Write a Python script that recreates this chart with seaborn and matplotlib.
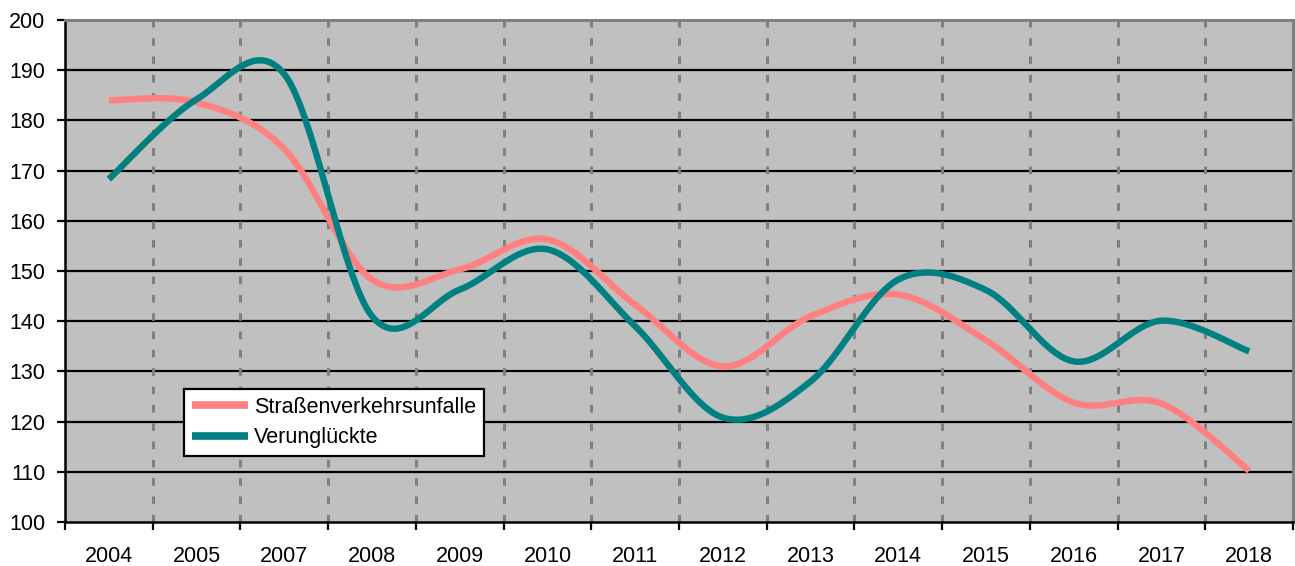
import numpy as np
import pandas as pd
import matplotlib
matplotlib.use("Agg")
import matplotlib.pyplot as plt
import seaborn as sns

years = ["2004", "2005", "2007", "2008", "2009", "2010", "2011",
         "2012", "2013", "2014", "2015", "2016", "2017", "2018"]
strassen = [184.0, 183.6, 174.3, 148.3, 150.3, 156.3, 143.3,
            131.0, 141.0, 145.3, 136.2, 123.8, 123.6, 110.2]
verungl = [168.3, 184.2, 189.2, 141.0, 146.3, 154.3, 139.0,
           120.8, 128.0, 148.3, 146.2, 132.0, 140.1, 134.0]
series_names = ["Straßenverkehrsunfalle", "Verunglückte"]
colors = ["#FF8080", "#008080"]
yticks = list(range(100, 201, 10))


def excel_smooth(vals, n=40):
    """Excel-style smoothed line: cubic Bezier segments through the points."""
    x = np.arange(len(vals), dtype=float)
    y = np.asarray(vals, dtype=float)
    P = np.column_stack([x, y])
    out = []
    m = len(P)
    for i in range(m - 1):
        p0 = P[i - 1] if i > 0 else P[i]
        p1 = P[i]
        p2 = P[i + 1]
        p3 = P[i + 2] if i + 2 < m else P[i + 1]
        c1 = p1 + (p2 - p0) / 6.0
        c2 = p2 - (p3 - p1) / 6.0
        t = np.linspace(0, 1, n, endpoint=(i == m - 2))[:, None]
        seg = ((1 - t) ** 3) * p1 + 3 * ((1 - t) ** 2) * t * c1 + 3 * (1 - t) * t ** 2 * c2 + t ** 3 * p2
        out.append(seg)
    out = np.vstack(out)
    return out[:, 0], out[:, 1]


sns.set_theme(style="white")
plt.rcParams["font.family"] = ["Liberation Sans", "DejaVu Sans"]
plt.rcParams["text.color"] = "black"
plt.rcParams["xtick.color"] = "black"
plt.rcParams["ytick.color"] = "black"
plt.rcParams["xtick.labelcolor"] = "black"
plt.rcParams["ytick.labelcolor"] = "black"
FS = 15.5

fig = plt.figure(figsize=(12.95, 5.66), dpi=100)
ax = fig.add_axes([0.0502, 0.0777, 0.9483, 0.887])
ax.set_facecolor("#C0C0C0")

frames = []
for name, vals in zip(series_names, [strassen, verungl]):
    sx, sy = excel_smooth(vals)
    frames.append(pd.DataFrame({"x": sx, "y": sy, "series": name}))
df = pd.concat(frames, ignore_index=True)

# grid lines
for yv in yticks[1:-1]:
    ax.axhline(yv, color="black", lw=1.6, zorder=1)
for k in range(1, len(years)):
    ax.axvline(k - 0.5, color="#808080", lw=2.2, ls=(0, (2.5, 3.5)), zorder=1)

sns.lineplot(data=df, x="x", y="y", hue="series", palette=colors,
             sort=False, estimator=None, lw=4.6, ax=ax, zorder=3,
             hue_order=series_names, solid_capstyle="butt")

ax.set_xlim(-0.5, len(years) - 0.5)
ax.set_ylim(100, 200)
ax.set_yticks(yticks)
ax.set_yticklabels([str(v) for v in yticks], fontsize=FS, color="black")
ax.set_xticks(range(len(years)))
ax.set_xticklabels(years, fontsize=FS, color="black")
ax.set_xticks(np.arange(-0.5, len(years), 1.0), minor=True)
ax.tick_params(axis="x", which="major", length=0, pad=17, colors="black")
ax.tick_params(axis="x", which="minor", length=6, width=1.6, color="black", direction="out", bottom=True)
ax.tick_params(axis="y", which="major", length=6, width=1.6, colors="black", direction="out", left=True, pad=8)
ax.set_xlabel("")
ax.set_ylabel("")

for side in ["left", "bottom"]:
    ax.spines[side].set_color("black")
    ax.spines[side].set_linewidth(1.8)
for side in ["top", "right"]:
    ax.spines[side].set_color("#808080")
    ax.spines[side].set_linewidth(2.2)

leg = ax.legend(loc="upper left", bbox_to_anchor=(0.097, 0.265), borderaxespad=0,
                fontsize=FS, frameon=True, fancybox=False, framealpha=1,
                edgecolor="black", handlelength=2.6, handletextpad=0.3,
                borderpad=0.35, labelspacing=0.45)
leg.get_frame().set_linewidth(1.6)
for text in leg.get_texts():
    text.set_color("black")
for line in leg.get_lines():
    line.set_linewidth(5.5)
    line.set_solid_capstyle("butt")

fig.savefig("out.png", dpi=100, facecolor="white")
